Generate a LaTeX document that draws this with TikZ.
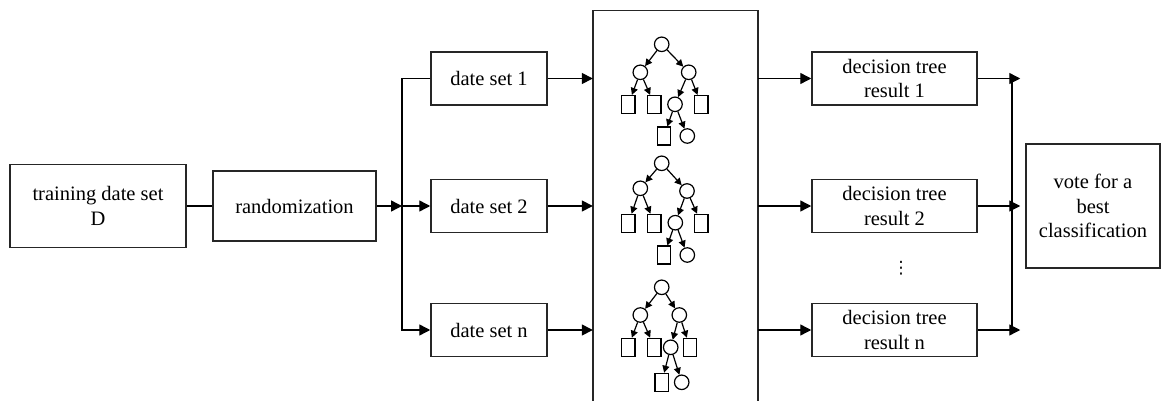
\documentclass[tikz,border=0pt]{standalone}
\usepackage{fontspec}
\setmainfont{Liberation Serif}
\newfontfamily\symfont{DejaVu Sans}
\usetikzlibrary{arrows.meta}

% edges of one small decision tree, nodes prefixed by #1
\newcommand\treeedges[1]{%
  \draw[tarr] (#1root) -- (#1l);
  \draw[tarr] (#1root) -- (#1r);
  \draw[tarr] (#1l) -- (#1ll);
  \draw[tarr] (#1l) -- (#1lr);
  \draw[tarr] (#1r) -- (#1rl);
  \draw[tarr] (#1r) -- (#1rr);
  \draw[tarr] (#1rl) -- (#1rll);
  \draw[tarr] (#1rl) -- (#1rlr);
}

\begin{document}
\begin{tikzpicture}[x=1pt,y=-1pt,
  box/.style={draw=black!85, line width=1.5pt, align=center, inner sep=0pt,
    font=\fontsize{20.5}{24.5}\selectfont},
  link/.style={line width=1.4pt},
  arr/.style={link, -{Triangle[length=11pt,width=11pt]}},
  tarr/.style={line width=1.2pt, -{Triangle[length=7pt,width=7pt]}},
  inner/.style={draw, circle, line width=1.2pt, minimum size=14.5pt, inner sep=0pt},
  leaf/.style={draw, rectangle, line width=1.2pt, minimum width=13.5pt,
    minimum height=18pt, inner sep=0pt},
  frame/.style={draw=black!85, line width=1.5pt}
]
\useasboundingbox (0,0) rectangle (1162,401);

% input side
\node[box, minimum width=176pt, minimum height=83pt] (train) at (98,206) {training date set\\D};
\node[box, minimum width=163pt, minimum height=70pt] (rand) at (294.5,206) {randomization};

\node[box, minimum width=116pt, minimum height=53pt] (ds1) at (489,78.5) {date set 1};
\node[box, minimum width=116pt, minimum height=53pt] (ds2) at (489,206) {date set 2};
\node[box, minimum width=116pt, minimum height=53pt] (dsn) at (489,330) {date set n};

% forest frame (open at the bottom)
\node[minimum width=165pt, minimum height=390pt, inner sep=0pt] (forest) at (675.5,205.5) {};
\draw[frame] (forest.south west) -- (forest.north west) -- (forest.north east) -- (forest.south east);

% output side
\node[box, minimum width=165pt, minimum height=53pt] (dt1) at (894.5,78.5) {decision tree\\result 1};
\node[box, minimum width=165pt, minimum height=53pt] (dt2) at (894.5,206) {decision tree\\result 2};
\node[box, minimum width=165pt, minimum height=53pt] (dtn) at (894.5,330) {decision tree\\result n};
\node[font=\symfont\fontsize{17}{17}\selectfont, inner sep=0pt] (dots) at (901,268.5) {⋮};
\node[box, minimum width=134pt, minimum height=124pt] (vote) at (1093,206) {vote for a\\best\\classification};

% tree 1
\node[inner] (aroot) at (661.7,44.3) {};
\node[inner] (al) at (640.3,72.3) {};
\node[inner] (ar) at (688.7,72.3) {};
\node[leaf] (all) at (628.3,104.5) {};
\node[leaf] (alr) at (654.3,104.5) {};
\node[inner] (arl) at (675,104.3) {};
\node[leaf] (arr) at (701.3,104.5) {};
\node[leaf] (arll) at (664,136) {};
\node[inner] (arlr) at (687.3,136) {};
\treeedges{a}

% tree 2
\node[inner] (broot) at (661.7,163.3) {};
\node[inner] (bl) at (640.3,188.3) {};
\node[inner] (br) at (687,191) {};
\node[leaf] (bll) at (628.3,223.3) {};
\node[leaf] (blr) at (654.3,223.3) {};
\node[inner] (brl) at (675.3,222.7) {};
\node[leaf] (brr) at (701.3,223.3) {};
\node[leaf] (brll) at (664,255) {};
\node[inner] (brlr) at (687.3,255) {};
\treeedges{b}

% tree n
\node[inner] (croot) at (661.7,287.3) {};
\node[inner] (cl) at (640.3,315) {};
\node[inner] (cr) at (679.3,315) {};
\node[leaf] (cll) at (628.3,347.3) {};
\node[leaf] (clr) at (654.3,347.3) {};
\node[inner] (crl) at (670.7,347.3) {};
\node[leaf] (crr) at (690,347.3) {};
\node[leaf] (crll) at (661.7,382.3) {};
\node[inner] (crlr) at (681.7,382.3) {};
\treeedges{c}

% connectors
\coordinate (split) at (402,206);
\coordinate (merge) at (1012,206);
\draw[link] (train.east) -- (rand.west);
\draw[arr] (rand.east) -- (split);
\draw[link] (ds1.west) -| (split);
\draw[arr] (split) -- (ds2.west);
\draw[arr] (split) |- (dsn.west);

\foreach \d in {ds1,ds2,dsn}
  \draw[arr] (\d.east) -- (\d.east -| forest.west);
\foreach \d in {dt1,dt2,dtn}
  \draw[arr] (forest.east |- \d.west) -- (\d.west);

\draw[link] (dt1.east -| merge) -- (dtn.east -| merge);
\foreach \d in {dt1,dt2,dtn}
  \draw[arr, shorten >=5pt] (\d.east) -- (\d.east -| vote.west);
\end{tikzpicture}
\end{document}
